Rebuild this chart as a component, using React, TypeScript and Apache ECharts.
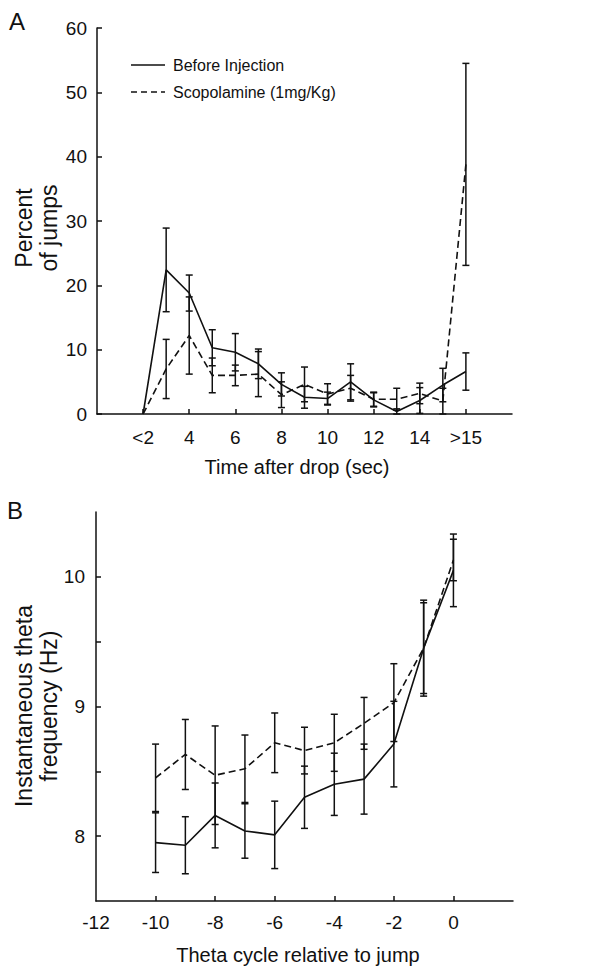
import React, { useEffect, useRef } from "react";
import * as echarts from "echarts";

// Panel A: percent of jumps vs time after drop
const aX = [2, 3, 4, 5, 6, 7, 8, 9, 10, 11, 12, 13, 14, 15, 16];
const aBefore = [0, 22.4, 18.8, 10.3, 9.6, 7.8, 4.6, 2.6, 2.4, 5.0, 2.2, 0.4, 2.1, 4.5, 6.6];
const aBeforeErr = [0, 6.5, 2.8, 2.8, 2.9, 2.3, 1.8, 1.7, 1.0, 2.8, 1.1, 0.4, 2.0, 2.6, 2.9];
const aScop = [0, 7.0, 12.2, 6.0, 6.0, 6.2, 3.0, 4.6, 3.1, 4.0, 2.3, 2.3, 3.2, 2.0, 38.8];
const aScopErr = [0, 4.6, 6.0, 2.7, 1.6, 3.5, 2.0, 2.7, 1.6, 2.0, 1.1, 1.7, 1.6, 2.0, 15.7];
const aXTickValues = [2, 4, 6, 8, 10, 12, 14, 16];
const aXTickLabels = ["<2", "4", "6", "8", "10", "12", "14", ">15"];

// Panel B: instantaneous theta frequency vs theta cycle
const bX = [-10, -9, -8, -7, -6, -5, -4, -3, -2, -1, 0];
const bBefore = [7.95, 7.93, 8.16, 8.04, 8.01, 8.3, 8.4, 8.44, 8.71, 9.45, 10.05];
const bBeforeErr = [0.23, 0.22, 0.25, 0.21, 0.26, 0.24, 0.24, 0.27, 0.33, 0.35, 0.28];
const bScop = [8.45, 8.63, 8.47, 8.52, 8.72, 8.66, 8.72, 8.87, 9.03, 9.45, 10.13];
const bScopErr = [0.26, 0.27, 0.38, 0.26, 0.23, 0.18, 0.22, 0.2, 0.3, 0.37, 0.16];
const bXTickValues = [-10, -8, -6, -4, -2, 0];
const bXLabelValues = [-12, -10, -8, -6, -4, -2, 0];
const bYTickValues = [8, 8.5, 9, 9.5, 10];
const bYLabelValues = [8, 9, 10];

const legendNames = ["Before Injection", "Scopolamine (1mg/Kg)"];

const FONT = "'Liberation Sans', Arial, Helvetica, sans-serif";
const INK = "#111";

function errData(xs: number[], ys: number[], es: number[]) {
  const out: number[][] = [];
  xs.forEach((x, i) => {
    if (es[i] > 0) out.push([x, ys[i] - es[i], ys[i] + es[i]]);
  });
  return out;
}

function renderErr(params: any, api: any) {
  const x = api.value(0);
  const lo = api.coord([x, api.value(1)]);
  const hi = api.coord([x, api.value(2)]);
  const cap = 3.5;
  const st = { stroke: INK, lineWidth: 1.5 };
  return {
    type: "group",
    children: [
      { type: "line", shape: { x1: hi[0], y1: hi[1], x2: lo[0], y2: lo[1] }, style: st },
      { type: "line", shape: { x1: hi[0] - cap, y1: hi[1], x2: hi[0] + cap, y2: hi[1] }, style: st },
      { type: "line", shape: { x1: lo[0] - cap, y1: lo[1], x2: lo[0] + cap, y2: lo[1] }, style: st },
    ],
  };
}

export default function App() {
  const ref = useRef<HTMLDivElement>(null);
  useEffect(() => {
    if (!ref.current) return;
    const chart = echarts.init(ref.current, undefined, { renderer: "svg" });
    const axisLine = { show: true, onZero: false, lineStyle: { color: INK, width: 1.5 } };
    const tickStyle = { color: INK, width: 1.5 };
    const labelStyle = { color: INK, fontSize: 19, fontFamily: FONT };
    const textStyle = (text: string, size: number, extra: any = {}) => ({
      text,
      font: `${size}px ${FONT}`,
      fontSize: size,
      fontFamily: FONT,
      fill: INK,
      ...extra,
    });
    const centered = { align: "center", verticalAlign: "middle", textAlign: "center", textVerticalAlign: "middle" };
    const option: any = {
      animation: false,
      backgroundColor: "#fff",
      grid: [
        { left: 97, top: 28, width: 415, height: 386 },
        { left: 96, top: 512, width: 417, height: 389 },
      ],
      xAxis: [
        {
          gridIndex: 0,
          type: "value",
          min: 0,
          max: 18,
          interval: 2,
          axisLine,
          splitLine: { show: false },
          axisTick: { show: true, inside: true, length: 5, lineStyle: tickStyle, customValues: aXTickValues },
          axisLabel: {
            ...labelStyle,
            margin: 14,
            customValues: aXTickValues,
            formatter: (v: number) => aXTickLabels[aXTickValues.indexOf(v)] ?? "",
          },
        },
        {
          gridIndex: 1,
          type: "value",
          min: -12,
          max: 2,
          interval: 2,
          axisLine,
          splitLine: { show: false },
          axisTick: { show: true, inside: true, length: 5, lineStyle: tickStyle, customValues: bXTickValues },
          axisLabel: { ...labelStyle, margin: 12, customValues: bXLabelValues, formatter: (v: number) => String(v) },
        },
      ],
      yAxis: [
        {
          gridIndex: 0,
          type: "value",
          min: 0,
          max: 60,
          interval: 10,
          axisLine,
          splitLine: { show: false },
          axisTick: { show: true, inside: true, length: 5, lineStyle: tickStyle },
          axisLabel: { ...labelStyle, margin: 10 },
        },
        {
          gridIndex: 1,
          type: "value",
          min: 7.5,
          max: 10.5,
          interval: 0.5,
          axisLine,
          splitLine: { show: false },
          axisTick: { show: true, inside: true, length: 5, lineStyle: tickStyle, customValues: bYTickValues },
          axisLabel: { ...labelStyle, margin: 11, customValues: bYLabelValues, formatter: (v: number) => String(v) },
        },
      ],
      series: [
        {
          type: "line",
          name: legendNames[0],
          xAxisIndex: 0,
          yAxisIndex: 0,
          data: aX.map((x, i) => [x, aBefore[i]]),
          showSymbol: false,
          symbol: "none",
          lineStyle: { color: INK, width: 1.6, type: "solid" },
        },
        {
          type: "line",
          name: legendNames[1],
          xAxisIndex: 0,
          yAxisIndex: 0,
          data: aX.map((x, i) => [x, aScop[i]]),
          showSymbol: false,
          symbol: "none",
          lineStyle: { color: INK, width: 1.6, type: [7, 4] },
        },
        {
          type: "custom",
          xAxisIndex: 0,
          yAxisIndex: 0,
          data: errData(aX, aBefore, aBeforeErr),
          renderItem: renderErr,
          clip: false,
        },
        {
          type: "custom",
          xAxisIndex: 0,
          yAxisIndex: 0,
          data: errData(aX, aScop, aScopErr),
          renderItem: renderErr,
          clip: false,
        },
        {
          type: "line",
          name: legendNames[0],
          xAxisIndex: 1,
          yAxisIndex: 1,
          data: bX.map((x, i) => [x, bBefore[i]]),
          showSymbol: false,
          symbol: "none",
          lineStyle: { color: INK, width: 1.6, type: "solid" },
        },
        {
          type: "line",
          name: legendNames[1],
          xAxisIndex: 1,
          yAxisIndex: 1,
          data: bX.map((x, i) => [x, bScop[i]]),
          showSymbol: false,
          symbol: "none",
          lineStyle: { color: INK, width: 1.6, type: [7, 4] },
        },
        {
          type: "custom",
          xAxisIndex: 1,
          yAxisIndex: 1,
          data: errData(bX, bBefore, bBeforeErr),
          renderItem: renderErr,
          clip: false,
        },
        {
          type: "custom",
          xAxisIndex: 1,
          yAxisIndex: 1,
          data: errData(bX, bScop, bScopErr),
          renderItem: renderErr,
          clip: false,
        },
      ],
      graphic: [
        // panel letters
        { type: "text", x: 17, y: 21, style: textStyle("A", 24, centered) },
        { type: "text", x: 15, y: 510, style: textStyle("B", 24, centered) },
        // legend
        { type: "line", shape: { x1: 131, y1: 65, x2: 165, y2: 65 }, style: { stroke: INK, lineWidth: 1.6 } },
        { type: "line", shape: { x1: 131, y1: 92, x2: 165, y2: 92 }, style: { stroke: INK, lineWidth: 1.6, lineDash: [6, 4] } },
        { type: "text", x: 173, y: 65, style: textStyle(legendNames[0], 16, { align: "left", verticalAlign: "middle", textAlign: "left", textVerticalAlign: "middle" }) },
        { type: "text", x: 173, y: 92, style: textStyle(legendNames[1], 16, { align: "left", verticalAlign: "middle", textAlign: "left", textVerticalAlign: "middle" }) },
        // axis titles
        { type: "text", x: 297, y: 467, style: textStyle("Time after drop (sec)", 20, centered) },
        { type: "text", x: 298, y: 955, style: textStyle("Theta cycle relative to jump", 20, centered) },
        {
          type: "text",
          x: 36,
          y: 228,
          rotation: Math.PI / 2,
          style: textStyle("Percent\nof jumps", 23, { lineHeight: 25, ...centered }),
        },
        {
          type: "text",
          x: 36,
          y: 706,
          rotation: Math.PI / 2,
          style: textStyle("Instantaneous theta\nfrequency (Hz)", 23, { lineHeight: 25, ...centered }),
        },
      ],
    };
    chart.setOption(option);
    return () => chart.dispose();
  }, []);
  return (
    <div
      ref={ref}
      style={{ position: "fixed", left: 0, top: 0, width: 609, height: 976, background: "#fff" }}
    />
  );
}
